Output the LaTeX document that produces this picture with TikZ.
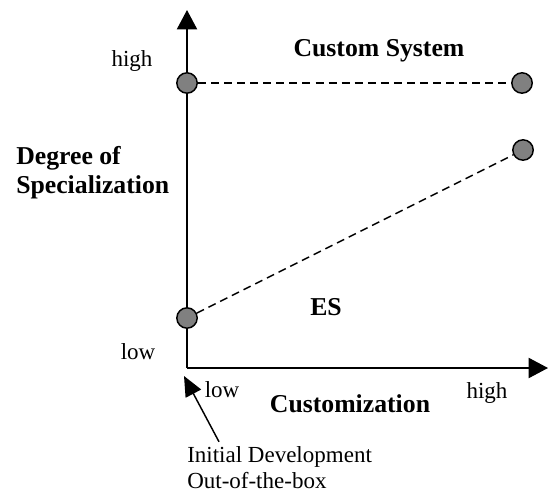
\documentclass[tikz,border=0pt]{standalone}
\usepackage{fontspec}
\setmainfont{Liberation Serif}
\usetikzlibrary{arrows.meta}
\definecolor{dotgray}{RGB}{128,128,128}
\begin{document}
\begin{tikzpicture}[x=0.75pt,y=-0.75pt,
  dot/.style={circle,draw=black,line width=1.1pt,fill=dotgray,minimum size=15.3pt,inner sep=0pt},
  lbl/.style={font=\fontsize{17.25}{20}\selectfont,inner sep=0pt},
  blbl/.style={font=\fontsize{19.3}{22}\selectfont\bfseries,inner sep=0pt},
  axisline/.style={line width=1.5pt,-{Triangle[length=14.5pt,width=15pt]}},
  dline/.style={line width=1.1pt,dash pattern=on 6pt off 3.8pt},
  pointer/.style={line width=1.1pt,-{Triangle[length=15pt,width=13pt]}}
]
\useasboundingbox (0,0) rectangle (555,491);
\coordinate (O) at (187,368);
\coordinate (Ytip) at (187,10);
\coordinate (Xtip) at (548,368);
\draw[axisline] (O) -- (Ytip);
\draw[axisline] (O) -- (Xtip);
\node[dot] (hl) at (187,83) {};
\node[dot] (hr) at (522,83) {};
\node[dot] (mr) at (523,150) {};
\node[dot] (ll) at (187,318) {};
\draw[dline] (hl) -- (hr);
\draw[dline] (ll) -- (mr);
\node[lbl,anchor=base] (yhigh) at (132,67) {high};
\node[blbl,anchor=base] (cs) at (379,57) {Custom System};
\node[blbl,anchor=base west] (deg) at (16,165) {Degree of};
\node[blbl,anchor=base west] (spec) at (16,194) {Specialization};
\node[blbl,anchor=base] (es) at (326,315) {ES};
\node[lbl,anchor=base] (ylow) at (138,359) {low};
\node[lbl,anchor=base] (xlow) at (222,397) {low};
\node[lbl,anchor=base] (xhigh) at (487,398) {high};
\node[blbl,anchor=base] (cust) at (350,412) {Customization};
\node[lbl,anchor=base west] (init) at (187,462) {Initial Development};
\node[lbl,anchor=base west] (oob) at (187,488) {Out-of-the-box};
\coordinate (ptr) at (184,376);
\draw[pointer] (init.north west) ++(32,-4) -- (ptr);
\end{tikzpicture}
\end{document}
